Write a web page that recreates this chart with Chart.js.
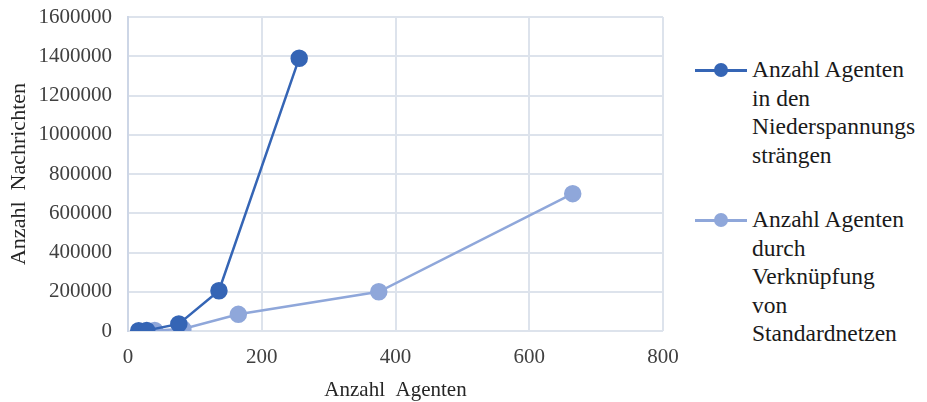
<!DOCTYPE html>
<html><head><meta charset="utf-8">
<script src="https://cdn.jsdelivr.net/npm/chart.js@4"></script>
<style>
body{margin:0;background:#fff;width:927px;height:402px;overflow:hidden;position:relative;font-family:"Liberation Serif",serif;}
#wrap{position:absolute;left:0;top:0;width:690px;height:402px;}
.leg{position:absolute;left:695px;font-size:23.5px;line-height:28.5px;color:#1a1a1a;}
.leg .mk{position:absolute;left:0;top:14px;width:52px;height:2.5px;}
.leg .dot{position:absolute;left:19px;top:8px;width:14px;height:14px;border-radius:50%;}
.leg .tx{margin-left:57px;width:230px;}
</style></head><body>
<div id="wrap"><canvas id="c" width="690" height="402"></canvas></div>
<div class="leg" style="top:55px"><div class="mk" style="background:#3565b5"></div><div class="dot" style="background:#3565b5"></div><div class="tx">Anzahl Agenten<br>in den<br>Niederspannungs<br>strängen</div></div>
<div class="leg" style="top:205px"><div class="mk" style="background:#8fa7da"></div><div class="dot" style="background:#8fa7da"></div><div class="tx">Anzahl Agenten<br>durch<br>Verknüpfung<br>von<br>Standardnetzen</div></div>
<script>
const seriesNames = ["Anzahl Agenten in den Niederspannungssträngen", "Anzahl Agenten durch Verknüpfung von Standardnetzen"];
const agents1 = [16, 28, 76, 136, 256];
const messages1 = [1000, 3000, 36000, 205000, 1390000];
const agents2 = [40, 82, 165, 375, 665];
const messages2 = [3000, 10000, 85000, 200000, 700000];
const xTicks = [0, 200, 400, 600, 800];
const yTicks = [0, 200000, 400000, 600000, 800000, 1000000, 1200000, 1400000, 1600000];
const xTitle = "Anzahl  Agenten";
const yTitle = "Anzahl  Nachrichten";

const toPts = (xs, ys) => xs.map((x, i) => ({x, y: ys[i]}));
const c1 = "#3565b5", c2 = "#8fa7da", gc = "#dde3ec";
new Chart(document.getElementById("c"), {
  type: "scatter",
  data: { datasets: [
    { label: seriesNames[0], data: toPts(agents1, messages1), showLine: true, borderColor: c1, backgroundColor: c1, borderWidth: 2.5, pointRadius: 7.5, pointHoverRadius: 7.5 },
    { label: seriesNames[1], data: toPts(agents2, messages2), showLine: true, borderColor: c2, backgroundColor: c2, borderWidth: 2.5, pointRadius: 7.5, pointHoverRadius: 7.5 }
  ]},
  options: {
    responsive: false, animation: false,
    layout: { padding: { top: 17, right: 27, left: 2, bottom: 0 } },
    plugins: { legend: { display: false }, tooltip: { enabled: false } },
    scales: {
      x: { type: "linear", min: 0, max: 800,
        afterBuildTicks: s => { s.ticks = xTicks.map(v => ({value: v})); },
        afterFit: s => { s.height = 71; s.paddingLeft = 0; s.paddingRight = 0; },
        grid: { color: gc, lineWidth: 2, drawTicks: false },
        border: { display: false },
        ticks: { color: "#404040", font: { family: "Liberation Serif", size: 21 }, padding: 14 },
        title: { display: true, text: xTitle, color: "#262626", font: { family: "Liberation Serif", size: 21 }, padding: { top: 11, bottom: -1 } } },
      y: { min: 0, max: 1600000,
        afterBuildTicks: s => { s.ticks = yTicks.map(v => ({value: v})); },
        afterFit: s => { s.width = 126; s.paddingTop = 0; s.paddingBottom = 0; },
        grid: { color: gc, lineWidth: 2, drawTicks: false },
        border: { display: true, color: "#cdd6e6", width: 2 },
        ticks: { color: "#404040", font: { family: "Liberation Serif", size: 21 }, padding: 16, callback: v => String(v) },
        title: { display: true, text: yTitle, color: "#262626", font: { family: "Liberation Serif", size: 22 }, padding: { bottom: 0 } } }
    }
  }
});
</script></body></html>
